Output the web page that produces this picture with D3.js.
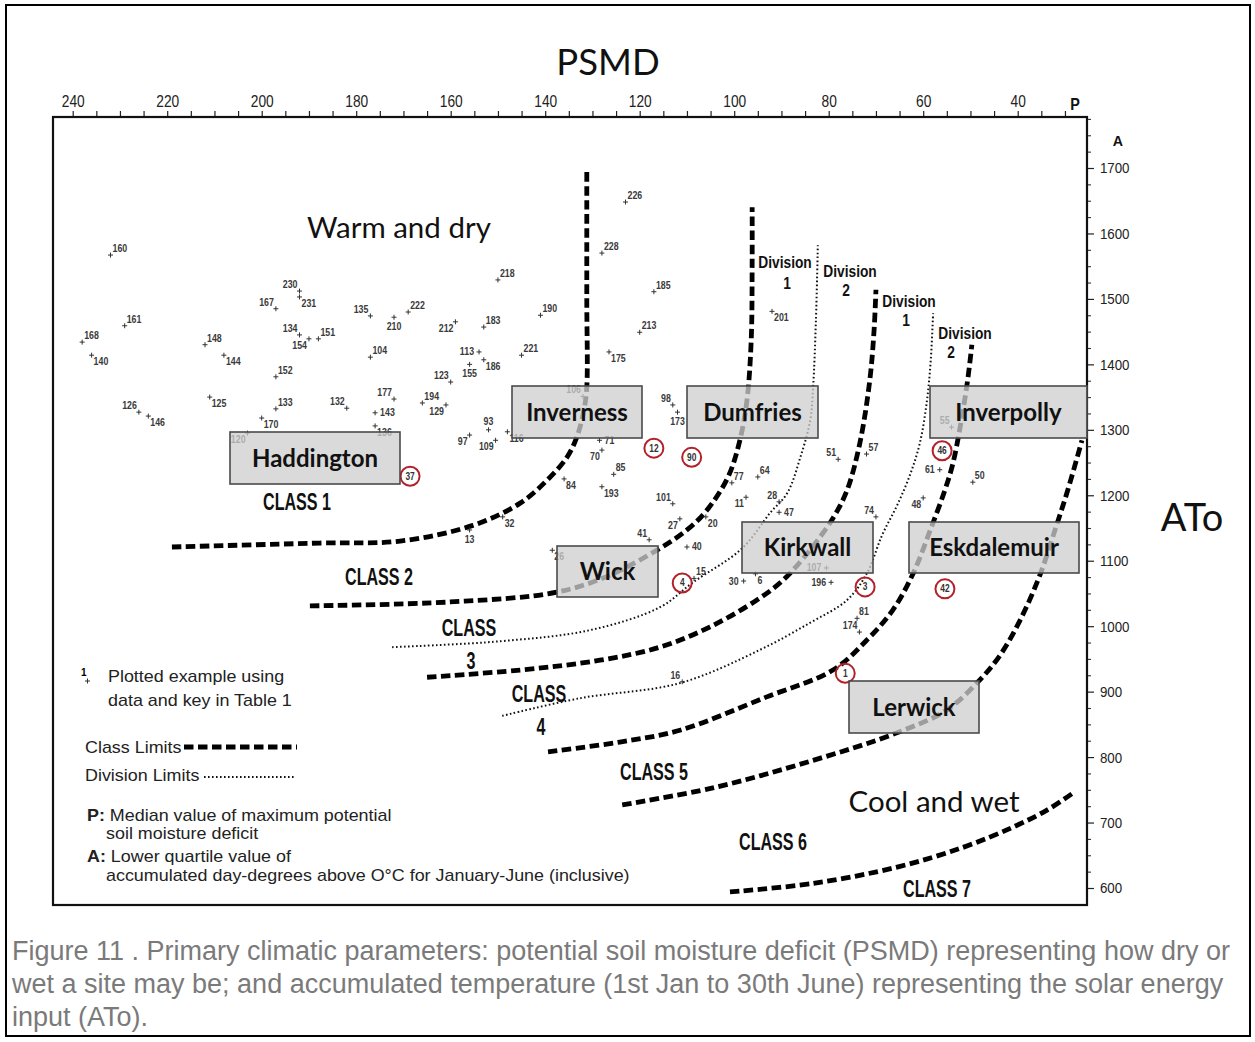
<!DOCTYPE html>
<html><head><meta charset="utf-8">
<script src="https://cdn.jsdelivr.net/npm/d3@7"></script>
<style>
body{margin:0;background:#fff;}
svg{display:block;}
</style></head><body>
<svg id="c" width="1255" height="1042"></svg>
<script>
// ---------------- DATA ----------------
const psmdMajorTicks = [240,220,200,180,160,140,120,100,80,60,40];
const atoMajorTicks = [1700,1600,1500,1400,1300,1200,1100,1000,900,800,700,600];

// [site label, PSMD, ATo]
const plottedSites = [
 ["160",232,1567],["161",229,1459],["168",238,1434],["140",236,1414],["148",212,1430],["144",208,1414],
 ["230",192,1512],["231",192,1503],["167",197,1485],["135",177,1474],["210",172,1472],["222",169,1480],
 ["212",159,1465],["134",192,1445],["154",190,1439],["151",188,1439],["104",177,1411],["152",197,1381],
 ["133",197,1332],["125",211,1350],["126",226,1327],["146",224,1321],["132",182,1333],["177",172,1347],
 ["143",176,1326],["194",166,1341],["123",160,1373],["129",161,1338],["170",200,1318],["120",203,1295],
 ["136",176,1306],["218",150,1529],["226",123,1648],["228",128,1570],["185",117,1511],["190",141,1475],
 ["183",153,1457],["213",120,1449],["113",154,1419],["221",145,1414],["155",156,1400],["186",153,1407],
 ["175",126.5,1419],["106",132,1351],["98",113,1338],["173",112,1327],["93",152,1300],["97",156,1292],
 ["109",150.5,1284],["116",148,1297],["71",128.5,1284],["70",128,1269],["85",125.5,1232],["84",136,1225],
 ["193",128,1213],["101",113,1187],["32",149,1167],["13",156,1147],["41",118,1132],["27",111.5,1164],
 ["20",106,1167],["40",110,1121],["26",138.5,1116],["15",108.5,1073],["30",98,1069],["6",95.5,1080],
 ["77",100.5,1219],["11",97.5,1197],["64",95,1228],["28",90.5,1190],["47",90.5,1174],["201",92,1481],
 ["51",78,1255],["57",72,1263],["55",54,1304],["61",56.5,1239],["50",49.5,1220],["48",60,1196],
 ["74",70,1167],["107",80.5,1089],["196",79.5,1067],["81",74,1012],["174",73.5,991],["16",111,915]
];
// circled example sites [label, PSMD, ATo]
const circledSites = [["37",168.6,1229],["12",117,1272],["90",109,1258],["4",111,1066],
 ["46",56,1268],["3",72.3,1060],["42",55.4,1057],["1",76.5,928]];

// class limit curves [PSMD, ATo]
const class1Limit = [[219,1121],[187.7,1127],[170.7,1130],[155.3,1154],[145.3,1188],[139.6,1223],[135.4,1258],[133.3,1289],[131.8,1330],[131.2,1365],[131.2,1500],[131.2,1694]];
const class2Limit = [[189.8,1031],[160.1,1037],[137.5,1052],[126.3,1078],[116.4,1116],[110,1147],[105.8,1177],[101.3,1228],[98.8,1284],[97.3,1345],[96.4,1437],[96.2,1559],[96.2,1640]];
const class3Limit = [[165,922],[145.3,933],[128.4,948],[115.7,968],[105.1,999],[95.2,1040],[89.7,1070],[84,1116],[79.1,1165],[76.1,1208],[73.4,1280],[71.3,1376],[70.4,1452],[70,1514]];
const class4Limit = [[139.4,808],[124.2,823],[111.5,841],[93.1,892],[79.1,933],[71.9,979],[66.4,1025],[62.1,1081],[58.5,1147],[55.4,1208],[53.7,1249],[51.8,1320],[50.5,1381],[49.7,1430]];
const class5Limit = [[123.7,727],[104.5,753],[83.3,795],[65.6,837],[55,872],[48,918],[43.7,956],[39.5,1009],[35.3,1078],[32.1,1147],[29.4,1208],[26.4,1284]];
const class6Limit = [[100.9,594],[83.3,607],[65.5,632],[51.6,662],[41,693],[33.8,719],[28.3,745]];
// division limits
const class3Division = [[172.4,968],[149.5,977],[130.5,994],[115.7,1029],[108.7,1067],[98.3,1119],[92.4,1173],[88.8,1203],[86,1258],[83.9,1315],[83.3,1365],[82.7,1468],[82.3,1582]];
const class4Division = [[149.1,863],[132.6,890],[111.5,913],[94.5,964],[84,1005],[76.1,1040],[71.9,1081],[68.7,1139],[65.5,1185],[62.8,1231],[60.7,1280],[59.2,1345],[58.4,1407],[57.9,1478]];

const stationNames = ["Haddington","Inverness","Dumfries","Inverpolly","Wick","Kirkwall","Eskdalemuir","Lerwick"];
const captionLines = [
 "Figure 11 . Primary climatic parameters: potential soil moisture deficit (PSMD) representing how dry or",
 "wet a site may be; and accumulated temperature (1st Jan to 30th June) representing the solar energy",
 "input (ATo)."
];

// ---------------- LAYOUT ----------------
const labelSide = {"160":"ne","161":"ne","168":"ne","140":"se","148":"ne","144":"se","230":"nw","231":"se","167":"nw","135":"nw","210":"s","222":"ne","212":"sw","134":"nw","154":"sw","151":"ne","104":"ne","152":"ne","133":"ne","125":"se","126":"nw","146":"se","132":"nw","177":"nw","143":"e","194":"ne","123":"nw","129":"sw","170":"se","120":"sw","136":"se","218":"ne","226":"ne","228":"ne","185":"ne","190":"ne","183":"ne","213":"ne","113":"w","221":"ne","155":"s","186":"se","175":"se","106":"nw","98":"nw","173":"s","93":"n","97":"sw","109":"sw","116":"se","71":"e","70":"sw","85":"ne","84":"se","193":"se","101":"nw","32":"se","13":"s","41":"nw","27":"sw","20":"se","40":"e","26":"se","15":"ne","30":"w","6":"se","77":"ne","11":"sw","64":"ne","28":"nw","47":"e","201":"se","51":"nw","57":"ne","55":"nw","61":"w","50":"ne","48":"sw","74":"nw","107":"w","196":"w","81":"ne","174":"nw","16":"nw"};
const sideOffset = {ne:[2,-3,"start"],nw:[-2,-3,"end"],se:[2,10,"start"],sw:[-2,10,"end"],e:[5,3.5,"start"],w:[-5,3.5,"end"],n:[0,-5,"middle"],s:[0,13,"middle"]};
// station boxes: [x, y, w, h] in pixels
const boxLayout = {Haddington:[230,432,170,52],Inverness:[512,386,130,52],Dumfries:[687,386,131,52],Inverpolly:[930,386,157,52],Wick:[557,546,101,51],Kirkwall:[742,522,131,51],Eskdalemuir:[909,522,170,51],Lerwick:[849,681,130,52]};

const SANS = "'Liberation Sans',Arial,Helvetica,sans-serif";
const CAL = "Lato,'Open Sans',sans-serif";

const svg = d3.select("#c");
const frame = {l:53, t:117, r:1087, b:905};

const x = d3.scaleLinear().domain([240,40]).range([72.7,1017.7]);
const y = d3.scaleLinear().domain([1700,600]).range([168,888]);

// squeezed/stretched text helper
function ctext(parent, str, tx, ty, size, sx, opts={}) {
  return parent.append("text")
    .attr("transform",`translate(${tx},${ty}) scale(${sx},1)`)
    .attr("text-anchor",opts.anchor||"middle")
    .attr("font-family",SANS).attr("font-size",size)
    .attr("font-weight",opts.weight||"normal")
    .attr("fill",opts.fill||"#111").text(str);
}

// outer border
svg.append("rect").attr("x",6).attr("y",5).attr("width",1244).attr("height",1031)
  .attr("fill","none").attr("stroke","#000").attr("stroke-width",2);

// titles
svg.append("text").attr("x",608).attr("y",75).attr("text-anchor","middle")
  .attr("font-family",CAL).attr("font-size",36.5).attr("fill","#111").text("PSMD");
svg.append("text").attr("x",1192).attr("y",531).attr("text-anchor","middle")
  .attr("font-family",CAL).attr("font-size",38).attr("fill","#111").text("ATo");

// top axis
const topAxis = d3.axisTop(x).tickValues(d3.range(30,241,5)).tickSize(6).tickSizeOuter(0).tickPadding(4)
  .tickFormat(d => psmdMajorTicks.includes(d) ? d : "");
const gTop = svg.append("g").attr("transform",`translate(0,${frame.t})`).call(topAxis);
gTop.select(".domain").remove();
gTop.selectAll("line").attr("stroke","#222").attr("stroke-width",1.2);
gTop.selectAll("text").attr("font-family",SANS).attr("font-size",16).attr("fill","#222")
  .attr("transform","scale(0.86,1)");
ctext(svg,"P",1075,110,16,0.9,{weight:"bold"});

// right axis
const rightMinor = d3.axisRight(y).tickValues(d3.range(600,1776,25).filter(d=>d%100!==0)).tickSize(4).tickFormat("");
const gRm = svg.append("g").attr("transform",`translate(${frame.r},0)`).call(rightMinor);
gRm.select(".domain").remove();
gRm.selectAll("line").attr("stroke","#333").attr("stroke-width",1.1);
const rightMajor = d3.axisRight(y).tickValues(atoMajorTicks).tickSize(7).tickPadding(8).tickFormat(d3.format("d"));
const gR = svg.append("g").attr("transform",`translate(${frame.r},0)`).call(rightMajor);
gR.select(".domain").remove();
gR.selectAll("line").attr("stroke","#222").attr("stroke-width",1.2);
gR.selectAll("text").attr("font-family",SANS).attr("font-size",15.5).attr("fill","#222")
  .attr("transform","scale(0.86,1)");
ctext(svg,"A",1118,146,15,0.95,{weight:"bold"});

// frame
svg.append("rect").attr("x",frame.l).attr("y",frame.t).attr("width",frame.r-frame.l).attr("height",frame.b-frame.t)
  .attr("fill","none").attr("stroke","#111").attr("stroke-width",2.2);

// curves
const line = d3.line().x(d=>x(d[0])).y(d=>y(d[1])).curve(d3.curveCatmullRom.alpha(0.5));
const plot = svg.append("g");
[class1Limit,class2Limit,class3Limit,class4Limit,class5Limit,class6Limit].forEach(c=>{
  plot.append("path").attr("d",line(c)).attr("fill","none").attr("stroke","#000")
    .attr("stroke-width",4.8).attr("stroke-dasharray","9.5 4.5");
});
[class3Division,class4Division].forEach(c=>{
  plot.append("path").attr("d",line(c)).attr("fill","none").attr("stroke","#111")
    .attr("stroke-width",2).attr("stroke-dasharray","1.6 2.4");
});

// plotted points
const pts = plot.append("g");
plottedSites.forEach(([lab,p,a])=>{
  const cx = x(p), cy = y(a);
  pts.append("path").attr("d",`M${cx-2.5},${cy}H${cx+2.5}M${cx},${cy-2.5}V${cy+2.5}`)
    .attr("stroke","#333").attr("stroke-width",1);
  const o = sideOffset[labelSide[lab]||"ne"];
  ctext(pts, lab, cx+o[0], cy+o[1], 11, 0.8, {anchor:o[2], weight:"bold", fill:"#3a3a3a"});
});
circledSites.forEach(([lab,p,a])=>{
  const cx = x(p), cy = y(a);
  pts.append("circle").attr("cx",cx).attr("cy",cy).attr("r",9.5).attr("fill","none")
    .attr("stroke","#b3202a").attr("stroke-width",2);
  ctext(pts, lab, cx, cy+3.5, 10.5, 0.8, {weight:"bold", fill:"#333"});
});

// class labels
const classTexts = [["CLASS 1",297,510],["CLASS 2",379,585],["CLASS",469,636],["3",471,669],["CLASS",539,702],["4",541,735],["CLASS 5",654,780],["CLASS 6",773,850],["CLASS 7",937,897]];
classTexts.forEach(([t,tx,ty])=> ctext(svg,t,tx,ty,23,0.7,{weight:"bold"}));
const divTexts = [["Division",785,268],["1",787,289],["Division",850,277],["2",846,296],["Division",909,307],["1",906,326],["Division",965,339],["2",951,358]];
divTexts.forEach(([t,tx,ty])=> ctext(svg,t,tx,ty,16,0.86,{weight:"bold"}));

// region labels
svg.append("text").attr("x",399).attr("y",238).attr("text-anchor","middle")
  .attr("font-family",CAL).attr("font-size",29.5).attr("fill","#111").text("Warm and dry");
svg.append("text").attr("x",934).attr("y",812).attr("text-anchor","middle")
  .attr("font-family",CAL).attr("font-size",29.5).attr("fill","#111").text("Cool and wet");

// station boxes
stationNames.forEach(n=>{
  const [bx,by,bw,bh] = boxLayout[n];
  svg.append("rect").attr("x",bx).attr("y",by).attr("width",bw).attr("height",bh)
    .attr("fill","#cfcfcf").attr("fill-opacity",0.76).attr("stroke","#4a4a4a").attr("stroke-width",1.6);
  svg.append("text").attr("x",bx+bw/2).attr("y",by+bh/2+8.5).attr("text-anchor","middle")
    .attr("font-family",CAL).attr("font-weight","bold").attr("font-size",24).attr("fill","#111").text(n);
});

// legend
const lg = svg.append("g");
const LS = 16, LX = 1.12;
lg.append("text").attr("x",81).attr("y",676).attr("font-family",SANS).attr("font-size",10).attr("font-weight","bold").text("1");
lg.append("path").attr("d","M85,681H90M87.5,678.5V683.5").attr("stroke","#333").attr("stroke-width",1);
ctext(lg,"Plotted example using",108,682,LS,LX,{anchor:"start",fill:"#222"});
ctext(lg,"data and key in Table 1",108,706,LS,LX,{anchor:"start",fill:"#222"});
ctext(lg,"Class Limits",85,753,LS,LX,{anchor:"start",fill:"#222"});
lg.append("path").attr("d","M184,747H297").attr("stroke","#000").attr("stroke-width",4.8).attr("stroke-dasharray","9.5 4.5");
ctext(lg,"Division Limits",85,781,LS,LX,{anchor:"start",fill:"#222"});
lg.append("path").attr("d","M204,777H296").attr("stroke","#111").attr("stroke-width",2).attr("stroke-dasharray","1.6 2.4");
const t1 = ctext(lg,"",87,821,LS,LX,{anchor:"start",fill:"#222"});
t1.append("tspan").attr("font-weight","bold").text("P:");
t1.append("tspan").text(" Median value of maximum potential");
ctext(lg,"soil moisture deficit",106,839,LS,LX,{anchor:"start",fill:"#222"});
const t2 = ctext(lg,"",87,862,LS,LX,{anchor:"start",fill:"#222"});
t2.append("tspan").attr("font-weight","bold").text("A:");
t2.append("tspan").text(" Lower quartile value of");
ctext(lg,"accumulated day-degrees above O°C for January-June (inclusive)",106,881,LS,LX,{anchor:"start",fill:"#222"});

// caption
captionLines.forEach((l,i)=>{
  svg.append("text").attr("x",12).attr("y",960+i*33).attr("font-family",SANS).attr("font-size",27)
    .attr("fill","#7a7a7a").text(l);
});
</script>
</body></html>
